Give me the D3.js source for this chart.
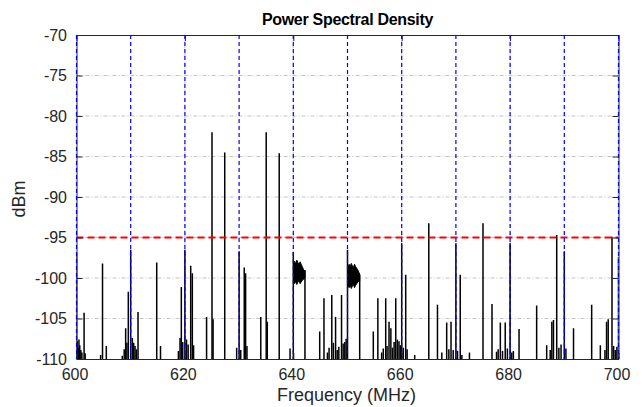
<!DOCTYPE html>
<html><head><meta charset="utf-8">
<script src="https://cdn.jsdelivr.net/npm/d3@7/dist/d3.min.js"></script>
<style>
body{margin:0;background:#fff}
text{font-family:"Liberation Sans",Arial,Helvetica,sans-serif}
</style>
</head><body>
<svg id="c" width="642" height="407"></svg>
<script>
// ---- data ----
const xTicks = [600, 620, 640, 660, 680, 700];
const yTicks = [-70, -75, -80, -85, -90, -95, -100, -105, -110];
const markerFreqs = [600, 610, 620, 630, 640, 650, 660, 670, 680, 690, 700];
const thresholdDbm = -95;

// narrow spectral spikes (MHz, dBm)
const spikeFreq = [
  600.0, 600.15, 600.3, 600.45, 600.6, 600.8, 601.0, 601.4, 601.6,
  604.45, 604.8, 605.5,
  608.45, 608.8, 609.07, 609.3, 609.56, 610.0, 610.3, 610.55, 610.8, 611.05, 611.35,
  614.8, 615.5,
  618.8, 619.1, 619.34, 619.6, 620.0, 620.3, 620.6, 621.07, 621.37, 621.6,
  624.0, 625.0, 625.2, 627.35,
  629.55, 630.0, 630.3, 630.95, 631.2, 631.45,
  634.0, 635.0, 635.2, 637.4,
  639.4, 640.0, 642.15,
  644.87, 645.66, 646.3, 646.6, 647.1, 647.4, 647.8, 648.1, 648.4, 648.9, 649.2, 649.5, 649.75, 650.0, 652.25,
  654.76, 655.6, 656.3, 656.6, 657.05, 657.3, 657.66, 658.0, 658.3, 658.6, 658.9, 659.2, 659.5, 659.75, 660.0, 660.3, 660.74, 661.0,
  662.4, 665.0,
  666.6, 667.4, 668.3, 668.7, 669.1, 669.5, 670.0, 670.3, 670.8, 671.1,
  672.5, 675.0,
  676.66, 677.5, 677.8, 678.2, 678.6, 679.1, 679.5, 680.0, 680.3, 680.6,
  681.65, 684.9, 686.75,
  687.4, 687.7, 688.0, 688.6, 689.0, 689.4, 690.0, 690.3,
  691.7, 695.05, 696.65,
  697.5, 697.8, 698.1, 698.8, 699.1, 699.4, 699.7, 700.0
];
const spikeDbm = [
  -96.9, -107.8, -108.6, -107.6, -108.3, -108.9, -109.2, -104.3, -109.3,
  -109.5, -98.2, -108.4,
  -109.6, -108.8, -106.2, -108.0, -101.7, -96.5, -107.4, -108.0, -108.4, -108.8, -104.2,
  -98.1, -108.4,
  -109.0, -107.4, -101.1, -107.9, -96.5, -107.6, -108.2, -98.5, -99.4, -108.3,
  -104.8, -82.0, -105.1, -84.5,
  -108.6, -96.7, -108.9, -98.7, -99.4, -108.4,
  -104.8, -82.0, -105.4, -84.6,
  -108.7, -96.8, -99.0,
  -106.6, -102.5, -109.2, -108.6, -102.1, -108.0, -104.8, -108.9, -108.5, -102.1, -108.1, -107.9, -107.5, -96.5, -99.6,
  -106.6, -102.5, -109.2, -108.7, -102.5, -108.4, -105.4, -106.2, -108.6, -107.9, -102.5, -107.6, -107.8, -108.3, -95.7, -108.6, -99.6, -108.8,
  -109.5, -93.25,
  -103.3, -109.2, -105.5, -108.8, -105.4, -108.9, -95.7, -109.0, -99.6, -109.5,
  -109.2, -93.25,
  -103.2, -109.1, -108.8, -105.5, -109.0, -105.5, -108.7, -95.7, -109.2, -109.0,
  -106.3, -103.4, -108.3,
  -108.9, -105.4, -105.2, -94.7, -108.6, -108.2, -96.7, -108.7,
  -106.2, -103.3, -108.3,
  -108.9, -105.4, -105.1, -94.9, -108.4, -108.9, -108.5, -97.4
];

// noisy plateau bands (MHz, upper dBm, lower dBm)
const band1Freq = [640.05, 640.25, 640.45, 640.65, 640.85, 641.05, 641.25, 641.45, 641.65, 641.85, 642.05, 642.15];
const band1Top  = [-98.4, -97.9, -98.3, -97.8, -98.1, -98.4, -98.0, -98.3, -98.6, -98.9, -99.1, -99.2];
const band1Bot  = [-100.3, -100.7, -100.4, -100.8, -100.5, -100.3, -100.7, -100.5, -100.3, -100.2, -100.0, -100.0];
const band2Freq = [650.1, 650.3, 650.5, 650.7, 650.9, 651.1, 651.3, 651.5, 651.7, 651.9, 652.1, 652.25];
const band2Top  = [-98.7, -98.3, -98.6, -98.2, -98.5, -98.7, -98.3, -98.6, -98.8, -99.0, -99.3, -99.5];
const band2Bot  = [-100.9, -101.2, -100.9, -101.3, -101.0, -100.8, -101.2, -100.9, -100.7, -100.5, -100.4, -100.3];

// ---- chart ----
const L = 76.5, R = 618.5, T = 35, B = 359;
const svg = d3.select("#c");
const x = d3.scaleLinear().domain([600, 700]).range([L, R]);
const y = d3.scaleLinear().domain([-110, -70]).range([B, T]);
const fmt = d => String(d);

svg.append("defs").append("clipPath").attr("id", "clip")
  .append("rect").attr("x", L).attr("y", T).attr("width", R - L).attr("height", B - T);

// grid
const grid = svg.append("g").attr("stroke", "#b4b4b4").attr("stroke-width", 0.8)
  .attr("stroke-dasharray", "4,2,1,2");
grid.selectAll("line.h").data(yTicks.filter(v => v > -110 && v < -70)).join("line")
  .attr("x1", L).attr("x2", R).attr("y1", d => y(d)).attr("y2", d => y(d));
grid.selectAll("line.v").data(xTicks.filter(v => v > 600 && v < 700)).join("line")
  .attr("y1", T).attr("y2", B).attr("x1", d => x(d)).attr("x2", d => x(d));

const plot = svg.append("g").attr("clip-path", "url(#clip)");

// spikes
const spikes = spikeFreq.map((f, i) => ({f, v: spikeDbm[i]}));
plot.append("g").attr("stroke", "#000").attr("stroke-width", 1.5)
  .selectAll("line").data(spikes).join("line")
  .attr("x1", d => x(d.f)).attr("x2", d => x(d.f))
  .attr("y1", y(-111)).attr("y2", d => y(d.v));

// bands
const area = d3.area().x(d => x(d.f)).y0(d => y(d.lo)).y1(d => y(d.hi));
[[band1Freq, band1Top, band1Bot], [band2Freq, band2Top, band2Bot]].forEach(([fs, ts, bs]) => {
  const data = fs.map((f, i) => ({f, hi: ts[i], lo: bs[i]}));
  plot.append("path").datum(data).attr("d", area)
    .attr("fill", "#000").attr("stroke", "#000").attr("stroke-width", 1);
});

// threshold line
svg.append("line").attr("x1", L).attr("x2", R)
  .attr("y1", y(thresholdDbm)).attr("y2", y(thresholdDbm))
  .attr("stroke", "#ff0000").attr("stroke-width", 2).attr("stroke-dasharray", "7,4");

// axes
const axisColor = "#262626";
function styleAxis(g) {
  g.select(".domain").attr("stroke", axisColor).attr("stroke-width", 1);
  g.selectAll(".tick line").attr("stroke", axisColor).attr("stroke-width", 1);
  g.selectAll(".tick text").attr("fill", "#262626").attr("font-size", 16)
    .attr("font-family", '"Liberation Sans",Arial,Helvetica,sans-serif');
}
svg.append("g").attr("transform", `translate(0,${B})`)
  .call(d3.axisBottom(x).tickValues(xTicks).tickSize(-6).tickSizeOuter(0).tickPadding(9.5).tickFormat(fmt))
  .call(styleAxis).call(g => g.selectAll(".tick text").attr("dx", -2));
svg.append("g").attr("transform", `translate(0,${T})`)
  .call(d3.axisTop(x).tickValues(xTicks).tickSize(-6).tickSizeOuter(0).tickFormat(""))
  .call(styleAxis);
svg.append("g").attr("transform", `translate(${L},0)`)
  .call(d3.axisLeft(y).tickValues(yTicks).tickSize(-6).tickSizeOuter(0).tickPadding(9.5).tickFormat(fmt))
  .call(styleAxis);
svg.append("g").attr("transform", `translate(${R},0)`)
  .call(d3.axisRight(y).tickValues(yTicks).tickSize(-6).tickSizeOuter(0).tickFormat(""))
  .call(styleAxis);

// marker lines
svg.append("g").attr("stroke", "#0000ff").attr("stroke-width", 1.2).attr("stroke-dasharray", "4,3")
  .selectAll("line").data(markerFreqs).join("line")
  .attr("x1", d => x(d)).attr("x2", d => x(d)).attr("y1", T).attr("y2", B);

// labels
svg.append("text").attr("x", (L + R) / 2).attr("y", 25).attr("text-anchor", "middle")
  .attr("font-size", 16).attr("letter-spacing", -0.3).attr("font-weight", "bold").attr("fill", "#000")
  .text("Power Spectral Density");
svg.append("text").attr("x", (L + R) / 2 - 1).attr("y", 401).attr("text-anchor", "middle")
  .attr("font-size", 18).attr("fill", "#262626").text("Frequency (MHz)");
svg.append("text").attr("transform", `translate(25,199) rotate(-90)`).attr("text-anchor", "middle")
  .attr("font-size", 18).attr("fill", "#262626").text("dBm");
</script>
</body></html>
